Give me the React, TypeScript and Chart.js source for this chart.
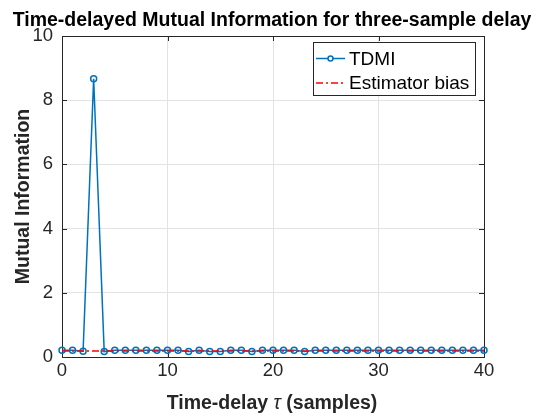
import { useEffect, useRef } from 'react';
import { Chart, registerables } from 'chart.js';

Chart.register(...registerables);

// Time delays tau (samples)
const delays = [
  0, 1, 2, 3, 4, 5, 6, 7, 8, 9, 10, 11, 12, 13, 14, 15, 16, 17, 18, 19, 20,
  21, 22, 23, 24, 25, 26, 27, 28, 29, 30, 31, 32, 33, 34, 35, 36, 37, 38, 39, 40,
];

// Time-delayed mutual information at each delay
const tdmi = [
  0.21, 0.21, 0.18, 8.67, 0.17, 0.21, 0.21, 0.21, 0.21, 0.21, 0.21,
  0.21, 0.17, 0.21, 0.17, 0.17, 0.21, 0.21, 0.17, 0.21, 0.21,
  0.21, 0.21, 0.17, 0.21, 0.21, 0.21, 0.21, 0.21, 0.21, 0.21,
  0.21, 0.21, 0.21, 0.21, 0.21, 0.21, 0.21, 0.21, 0.21, 0.21,
];

// Constant bias level of the MI estimator
const estimatorBias = 0.19;

const xTicks = [0, 10, 20, 30, 40];
const yTicks = [0, 2, 4, 6, 8, 10];
const seriesNames = ['TDMI', 'Estimator bias'];

const BLUE = '#0072BD';
const RED = '#FF0000';
const AXIS = '#262626';
const GRID = '#e3e3e3';
const FONT = "'Liberation Sans', Arial, Helvetica, sans-serif";
const BIAS_DASH = [7, 3, 2, 3];

// Axes box with inward tick marks (drawn beneath the data)
const axesFrame = {
  id: 'axesFrame',
  beforeDatasetsDraw(chart: any) {
    const { ctx, chartArea: a, scales } = chart;
    ctx.save();
    ctx.strokeStyle = AXIS;
    ctx.lineWidth = 1;
    ctx.beginPath();
    const tick = 5;
    for (const v of xTicks) {
      const px = Math.round(scales.x.getPixelForValue(v)) + 0.5;
      ctx.moveTo(px, a.bottom);
      ctx.lineTo(px, a.bottom - tick);
      ctx.moveTo(px, a.top);
      ctx.lineTo(px, a.top + tick);
    }
    for (const v of yTicks) {
      const py = Math.round(scales.y.getPixelForValue(v)) + 0.5;
      ctx.moveTo(a.left, py);
      ctx.lineTo(a.left + tick, py);
      ctx.moveTo(a.right, py);
      ctx.lineTo(a.right - tick, py);
    }
    ctx.stroke();
    ctx.strokeRect(
      Math.round(a.left) + 0.5,
      Math.round(a.top) + 0.5,
      Math.round(a.right - a.left),
      Math.round(a.bottom - a.top)
    );
    ctx.restore();
  },
};

// Title, x-axis label with italic tau, and the legend box
const annotations = {
  id: 'annotations',
  afterDraw(chart: any) {
    const { ctx, chartArea: a } = chart;
    const cx = (a.left + a.right) / 2;
    ctx.save();
    ctx.fillStyle = '#000';
    ctx.textAlign = 'center';
    ctx.textBaseline = 'alphabetic';
    ctx.font = `bold 19.5px ${FONT}`;
    ctx.fillText('Time-delayed Mutual Information for three-sample delay', cx - 1, 26);

    // x label: "Time-delay τ (samples)"
    const parts = [
      { t: 'Time-delay ', f: `bold 19.5px ${FONT}` },
      { t: 'τ', f: `italic 19.5px ${FONT}` },
      { t: ' (samples)', f: `bold 19.5px ${FONT}` },
    ];
    let total = 0;
    for (const p of parts) {
      ctx.font = p.f;
      total += ctx.measureText(p.t).width;
    }
    let x = cx - 1 - total / 2;
    ctx.fillStyle = AXIS;
    ctx.textAlign = 'left';
    for (const p of parts) {
      ctx.font = p.f;
      ctx.fillText(p.t, x, 409);
      x += ctx.measureText(p.t).width;
    }

    // legend
    const w = 163;
    const h = 54;
    const lx = Math.round(a.right) - 8 - w;
    const ly = Math.round(a.top) + 6;
    ctx.fillStyle = '#fff';
    ctx.fillRect(lx, ly, w, h);
    ctx.strokeStyle = AXIS;
    ctx.lineWidth = 1;
    ctx.strokeRect(lx + 0.5, ly + 0.5, w - 1, h - 1);

    const rows = [ly + 16.5, ly + 41];
    ctx.font = `19px ${FONT}`;
    ctx.textBaseline = 'middle';
    rows.forEach((ry, i) => {
      ctx.save();
      ctx.lineWidth = 1.5;
      ctx.strokeStyle = i === 0 ? BLUE : RED;
      ctx.setLineDash(i === 0 ? [] : BIAS_DASH);
      ctx.beginPath();
      ctx.moveTo(lx + 3, ry);
      ctx.lineTo(lx + 32, ry);
      ctx.stroke();
      ctx.setLineDash([]);
      if (i === 0) {
        ctx.fillStyle = '#fff';
        ctx.beginPath();
        ctx.arc(lx + 17.5, ry, 2.5, 0, Math.PI * 2);
        ctx.fill();
        ctx.stroke();
      }
      ctx.restore();
      ctx.fillStyle = '#000';
      ctx.fillText(seriesNames[i], lx + 36, ry + 1);
    });
    ctx.restore();
  },
};

export default function App() {
  const canvasRef = useRef<HTMLCanvasElement | null>(null);

  useEffect(() => {
    const canvas = canvasRef.current;
    if (!canvas) return;
    const chart = new Chart(canvas, {
      type: 'line',
      data: {
        datasets: [
          {
            label: seriesNames[0],
            data: delays.map((d, i) => ({ x: d, y: tdmi[i] })),
            borderColor: BLUE,
            borderWidth: 1.5,
            pointRadius: 3,
            pointBorderWidth: 1.5,
            pointBackgroundColor: 'rgba(0,0,0,0)',
            pointBorderColor: BLUE,
            tension: 0,
            clip: false,
            order: 1,
          },
          {
            label: seriesNames[1],
            data: [
              { x: delays[0], y: estimatorBias },
              { x: delays[delays.length - 1], y: estimatorBias },
            ],
            borderColor: RED,
            borderWidth: 1.5,
            borderDash: BIAS_DASH,
            pointRadius: 0,
            clip: false,
            order: 0,
          },
        ],
      },
      options: {
        responsive: false,
        animation: false,
        events: [],
        layout: { padding: { top: 36, right: 51, left: 0, bottom: 0 } },
        plugins: {
          legend: { display: false },
          title: { display: false },
          tooltip: { enabled: false },
        },
        scales: {
          x: {
            type: 'linear',
            min: 0,
            max: 40,
            afterBuildTicks: (s: any) => {
              s.ticks = xTicks.map((v) => ({ value: v }));
            },
            afterFit: (s: any) => {
              s.height = 59;
            },
            grid: { color: GRID, drawTicks: false, lineWidth: 1 },
            border: { display: false },
            ticks: {
              color: AXIS,
              padding: 3,
              maxRotation: 0,
              font: { family: FONT, size: 18.5 },
            },
            title: { display: false },
          },
          y: {
            type: 'linear',
            min: 0,
            max: 10,
            afterBuildTicks: (s: any) => {
              s.ticks = yTicks.map((v) => ({ value: v }));
            },
            afterFit: (s: any) => {
              s.width = 62;
            },
            grid: { color: GRID, drawTicks: false, lineWidth: 1 },
            border: { display: false },
            ticks: {
              color: AXIS,
              padding: 9,
              font: { family: FONT, size: 18.5 },
            },
            title: {
              display: true,
              text: 'Mutual Information',
              color: AXIS,
              padding: { top: 12, bottom: 0 },
              font: { family: FONT, size: 19.5, weight: 'bold' },
            },
          },
        },
      },
      plugins: [axesFrame, annotations],
    });
    return () => chart.destroy();
  }, []);

  return (
    <div style={{ position: 'absolute', left: 0, top: 0, width: 535, height: 416, background: '#fff' }}>
      <canvas ref={canvasRef} width={535} height={416} style={{ display: 'block' }} />
    </div>
  );
}
